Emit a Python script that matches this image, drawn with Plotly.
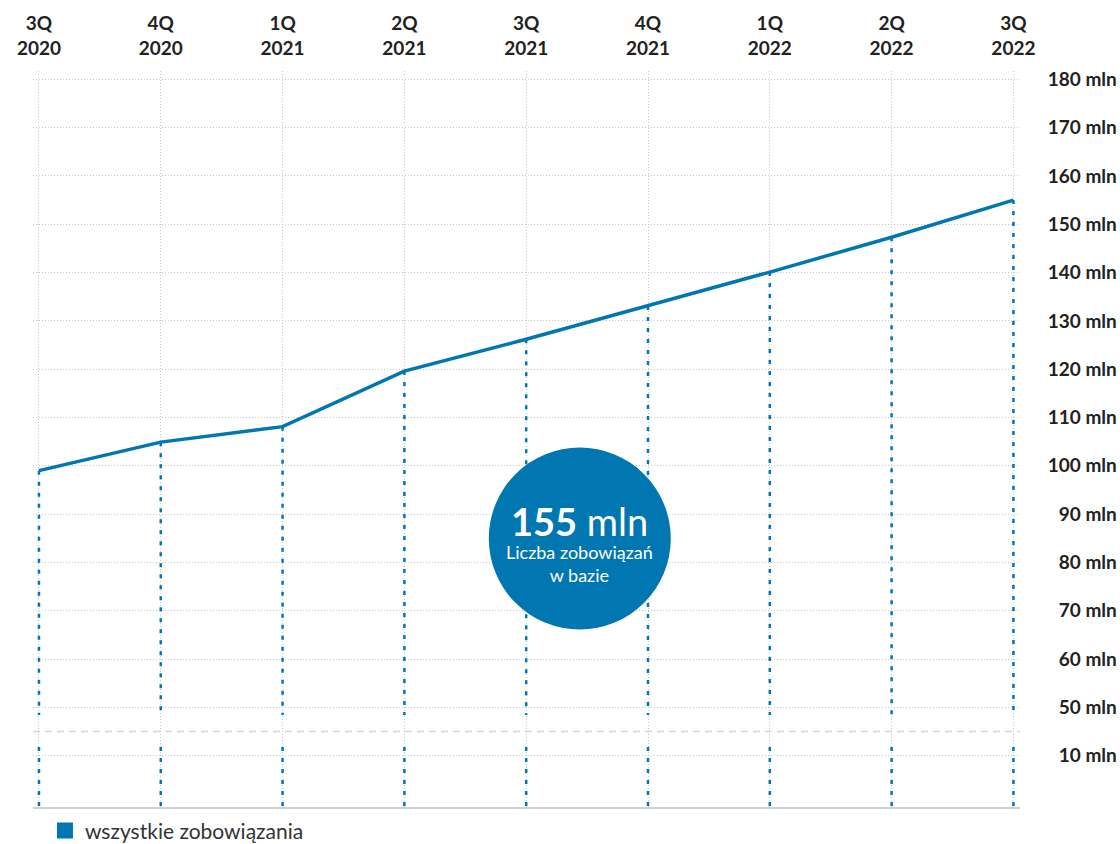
import plotly.graph_objects as go

# ---- data ----
categories = ["3Q 2020", "4Q 2020", "1Q 2021", "2Q 2021", "3Q 2021",
              "4Q 2021", "1Q 2022", "2Q 2022", "3Q 2022"]
values = [99.0, 104.9, 108.1, 119.6, 126.2, 133.1, 140.1, 147.3, 155.0]
series_name = "wszystkie zobowiązania"

# y-axis ticks (broken axis: the "10 mln" tick sits one step below 50)
tick_positions = [180, 170, 160, 150, 140, 130, 120, 110, 100, 90, 80, 70, 60, 50, 40]
tick_labels = ["180 mln", "170 mln", "160 mln", "150 mln", "140 mln", "130 mln",
               "120 mln", "110 mln", "100 mln", "90 mln", "80 mln", "70 mln",
               "60 mln", "50 mln", "10 mln"]
break_at = 45
circle_caption = "Liczba zobowiązań<br>w bazie"

# ---- style ----
BLUE = "#0077b0"
GRID = "#c6c6c6"
TEXT = "#222222"
FONT = "Lato"
Y_MIN, Y_MAX = 29.17, 181.72
X_MIN, X_MAX = -0.049, len(categories) - 1 + 0.054

tick_text_x = [c.replace(" ", "<br>") for c in categories]

fig = go.Figure()

# blue dotted drop lines from each point down to the bottom, interrupted at the axis break
drop_x, drop_y = [], []
for c, v in zip(categories, values):
    drop_x += [c, c, None, c, c, None]
    drop_y += [v, break_at + 3.4, None, break_at - 3.2, Y_MIN, None]
fig.add_trace(go.Scatter(
    x=drop_x, y=drop_y, mode="lines", connectgaps=False,
    line=dict(color=BLUE, width=2.5, dash="4px,7px"),
    hoverinfo="skip", showlegend=False,
))

# main line
fig.add_trace(go.Scatter(
    x=categories, y=values, mode="lines",
    line=dict(color=BLUE, width=3.5),
    name=series_name, showlegend=False,
))

# legend entry (square)
fig.add_trace(go.Scatter(
    x=[None], y=[None], mode="markers",
    marker=dict(symbol="square", size=17, color=BLUE),
    name=series_name, showlegend=True,
))

# invisible trace to bind the label axis
fig.add_trace(go.Scatter(x=[None], y=[None], yaxis="y2", showlegend=False,
                         hoverinfo="skip"))

# axis break dashed line
fig.add_shape(type="line", xref="x domain", yref="y", x0=0, x1=1,
              y0=break_at, y1=break_at,
              line=dict(color="#d6d6d6", width=1.5, dash="7px,5px"), layer="below")
# bottom baseline
fig.add_shape(type="line", xref="x domain", yref="y domain", x0=0, x1=1,
              y0=0, y1=0, line=dict(color="#cfcfcf", width=2), layer="above")

# circle with the latest value
cx, cy = 4.44, 84.95
fig.add_shape(type="circle", xref="x", yref="y",
              xsizemode="pixel", ysizemode="pixel",
              xanchor=cx, yanchor=cy, x0=-91, x1=91, y0=-91, y1=91,
              fillcolor=BLUE, line=dict(width=0), layer="above")
fig.add_annotation(
    x=cx, y=cy, xref="x", yref="y", yshift=18, showarrow=False,
    text=f"<b>{values[-1]:.0f}</b> mln",
    font=dict(family=FONT, size=38, color="white"),
)
fig.add_annotation(
    x=cx, y=cy, xref="x", yref="y", yshift=-25, showarrow=False,
    text=circle_caption,
    font=dict(family=FONT, size=18, color="white"),
)

fig.update_layout(
    width=1120, height=844,
    margin=dict(l=33, r=0, t=71, b=36, autoexpand=False),
    paper_bgcolor="white", plot_bgcolor="white",
    font=dict(family=FONT, color=TEXT),
    xaxis=dict(
        type="category", side="top", domain=[0, 0.908],
        range=[X_MIN, X_MAX], automargin=False,
        tickvals=categories, ticktext=tick_text_x,
        tickfont=dict(family=FONT, size=19, color=TEXT, weight=700),
        ticks="", ticklabelstandoff=11,
        showgrid=True, gridcolor=GRID, gridwidth=1, griddash="1px,2px",
        showline=False, zeroline=False, fixedrange=True,
    ),
    yaxis=dict(
        range=[Y_MIN, Y_MAX], side="right", automargin=False,
        tickvals=tick_positions, showticklabels=False, ticks="",
        showgrid=True, gridcolor=GRID, gridwidth=1, griddash="1px,2px",
        zeroline=False, showline=False, fixedrange=True,
    ),
    yaxis2=dict(
        range=[Y_MIN, Y_MAX], overlaying="y", side="left",
        anchor="free", position=0.997, automargin=False,
        tickvals=tick_positions, ticktext=tick_labels,
        tickfont=dict(family=FONT, size=19, color=TEXT, weight=700),
        ticks="", showgrid=False, zeroline=False, showline=False, fixedrange=True,
    ),
    legend=dict(
        orientation="h", x=0.011, xanchor="left", y=-0.031, yanchor="middle",
        font=dict(family=FONT, size=21, color="#333333"),
        bgcolor="rgba(0,0,0,0)",
    ),
    showlegend=True,
)

# remove the default 8px page margin so the 1120x844 figure fills the window exactly
fig.write_html(
    "out.html",
    config={"displayModeBar": False},
    post_script="document.body.style.margin='0';document.body.style.overflow='hidden';",
)
